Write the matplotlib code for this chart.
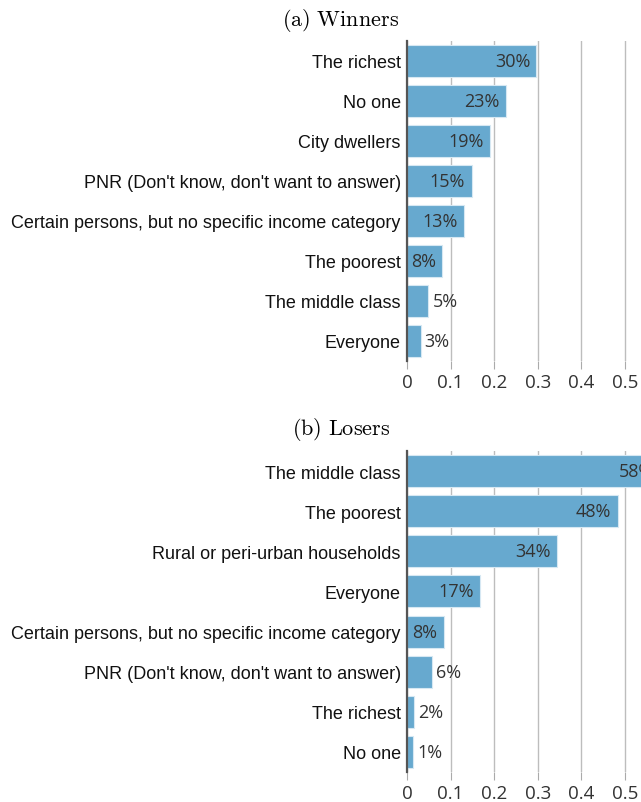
import matplotlib
matplotlib.use("Agg")
import matplotlib.pyplot as plt
import numpy as np

# data
winners_cats = ["The richest", "No one", "City dwellers",
                "PNR (Don't know, don't want to answer)",
                "Certain persons, but no specific income category",
                "The poorest", "The middle class", "Everyone"]
winners_vals = [0.297, 0.226, 0.191, 0.148, 0.130, 0.080, 0.049, 0.031]

losers_cats = ["The middle class", "The poorest", "Rural or peri-urban households",
               "Everyone", "Certain persons, but no specific income category",
               "PNR (Don't know, don't want to answer)", "The richest", "No one"]
losers_vals = [0.58, 0.483, 0.344, 0.167, 0.084, 0.058, 0.017, 0.014]

xticks = [0, 0.1, 0.2, 0.3, 0.4, 0.5]
xtick_labels = ["0", "0.1", "0.2", "0.3", "0.4", "0.5"]

plt.rcParams["mathtext.fontset"] = "cm"

W, H = 641, 803
fig = plt.figure(figsize=(W / 100, H / 100), dpi=100)

bar_color = "#67a9cf"


def panel(top_px, bottom_px, cats, vals, title, title_y):
    ax = fig.add_axes([407 / W, 1 - bottom_px / H, (W - 407) / W, (bottom_px - top_px) / H])
    y = np.arange(len(cats))
    ax.barh(y, vals, height=0.8, color=bar_color, edgecolor="#d6e8f3", linewidth=0.8, zorder=2)
    ax.set_ylim(len(cats) - 0.5, -0.5)
    ax.set_xlim(0, (W - 407) / 436)
    ax.set_yticks(y)
    ax.set_yticklabels(cats, fontsize=13, family="Liberation Sans", color="#111111")
    ax.tick_params(axis="y", length=0, pad=4.5)
    ax.set_xticks(xticks)
    ax.set_xticklabels(xtick_labels, fontsize=13.5, family="Open Sans", color="#333333")
    ax.tick_params(axis="x", length=6, width=0.8, color="#aaaaaa", pad=3)
    ax.grid(axis="x", color="#bdbdbd", linewidth=1, zorder=0)
    ax.set_axisbelow(True)
    for s in ["top", "right", "bottom"]:
        ax.spines[s].set_visible(False)
    ax.spines["left"].set_color("#555555")
    ax.spines["left"].set_linewidth(1.6)
    ax.spines["left"].set_zorder(3)

    # value labels: inside the bar when it is long enough, otherwise just after it
    for yi, v in zip(y, vals):
        txt = f"{round(v * 100)}%"
        if v >= 0.07:
            ax.annotate(txt, (v, yi), xytext=(-4.5, 0), textcoords="offset points",
                        ha="right", va="center", fontsize=13, family="Open Sans",
                        color="#333333", zorder=4, annotation_clip=False)
        else:
            ax.annotate(txt, (v, yi), xytext=(3, 0), textcoords="offset points",
                        ha="left", va="center", fontsize=13, family="Open Sans",
                        color="#333333", zorder=4)

    fig.text(341 / W, 1 - title_y / H, title, ha="center", va="center", fontsize=16)
    return ax


panel(42, 362, winners_cats, winners_vals, r"$\mathrm{(a)\ Winners}$", 20)
panel(452, 773, losers_cats, losers_vals, r"$\mathrm{(b)\ Losers}$", 430)

fig.savefig("out.png", dpi=100)
